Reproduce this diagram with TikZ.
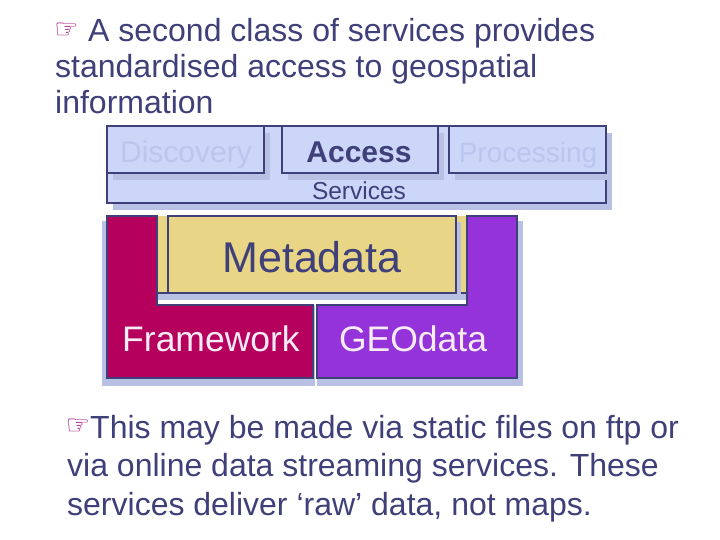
\documentclass[tikz,border=0pt]{standalone}
\usepackage{fontspec}
\setmainfont{Liberation Sans}
\newfontfamily\symfont{DejaVu Sans}
\usetikzlibrary{shadows}
\definecolor{navy}{HTML}{3F3F7A}
\definecolor{boxfill}{HTML}{CCD6F8}
\definecolor{shadowcol}{HTML}{B8C0E4}
\definecolor{faded}{HTML}{BCC5EE}
\definecolor{metayellow}{HTML}{E8D585}
\definecolor{crimson}{HTML}{B5005E}
\definecolor{violet}{HTML}{9333D9}
\definecolor{handcol}{HTML}{990077}
\definecolor{paletext}{HTML}{F8ECF4}
\tikzset{
  txt/.style={inner sep=0pt, anchor=base west, text=navy, font=\fontsize{32}{38}\selectfont},
  hand/.style={inner sep=0pt, text=handcol, font=\symfont\fontsize{27}{27}\selectfont},
  svcbox/.style={draw=navy, line width=1.5pt, fill=boxfill, inner sep=0pt,
    drop shadow={shadow xshift=6pt, shadow yshift=-7pt, fill=shadowcol, opacity=1}},
  lbl/.style={inner sep=0pt, anchor=base},
  blockline/.style={draw=navy, line width=1.5pt},
}
\begin{document}
\begin{tikzpicture}[x=1pt,y=-1pt]
\useasboundingbox (0,0) rectangle (720,540);

% title
\node[hand] (h1) at (66.5,31) {☞};
\node[txt] (t1) at (88,42) {A second class of services provides};
\node[txt] (t2) at (55,78) {standardised access to geospatial};
\node[txt] (t3) at (55,114) {information};

% services
\node[svcbox, minimum width=499pt, minimum height=77pt] (svc) at (356.5,164.5) {};
\node[svcbox, minimum width=157pt, minimum height=47pt] (disc) at (185.5,149.5) {};
\node[svcbox, minimum width=156pt, minimum height=47pt] (acc) at (360,149.5) {};
\node[svcbox, minimum width=157pt, minimum height=47pt] (proc) at (527.5,149.5) {};
\node[lbl, text=faded, font=\fontsize{30}{30}\selectfont] (discl) at (186,162.5) {Discovery};
\node[lbl, text=navy, font=\bfseries\fontsize{30}{30}\selectfont] (accl) at (359,162.5) {Access};
\node[lbl, text=faded, font=\fontsize{28}{28}\selectfont] (procl) at (528,162.5) {Processing};
\node[lbl, text=navy, font=\fontsize{24.5}{24.5}\selectfont] (svclabel) at (359,200) {Services};

% data block
\fill[shadowcol] (102,221) rectangle (523,386);
\fill[metayellow] (157,216) rectangle (467,293);
\draw[blockline] (157,293) -- (467,293);
\fill[shadowcol] (173,222) rectangle (461,299);
\fill[white] (157,300) rectangle (467,305);
\node[draw=navy, line width=1.5pt, fill=metayellow, minimum width=288pt, minimum height=77pt,
      inner sep=0pt] (meta) at (312,254.5) {};
\node[lbl, text=navy, font=\fontsize{43}{43}\selectfont] (metal) at (312,272.5) {Metadata};
\fill[white] (315,300) rectangle (316.8,392);
\filldraw[blockline, fill=crimson] (107,216) -- (157,216) -- (157,305) -- (313,305)
   -- (313,378) -- (107,378) -- cycle;
\filldraw[blockline, fill=violet] (317,305) -- (467,305) -- (467,216) -- (517,216)
   -- (517,378) -- (317,378) -- cycle;
\node[lbl, text=paletext, font=\fontsize{35.5}{35.5}\selectfont] (fw) at (211,351.5) {Framework};
\node[lbl, text=paletext, font=\fontsize{35.5}{35.5}\selectfont] (geo) at (413,351.5) {GEOdata};

% bottom text
\node[hand] (h2) at (78,427) {☞};
\node[txt] (b1) at (90,438) {This may be made via static files on ftp or};
\node[txt] (b2) at (67,476.5) {via online data streaming services. These};
\node[txt] (b3) at (67,515) {services deliver ‘raw’ data, not maps.};
\end{tikzpicture}
\end{document}
